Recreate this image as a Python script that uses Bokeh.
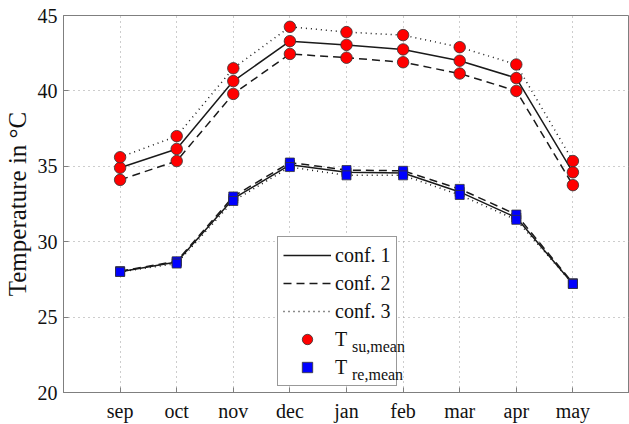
from bokeh.plotting import figure
from bokeh.models import Range1d, FixedTicker, Legend, LegendItem
from bokeh.embed import file_html
from bokeh.resources import INLINE

months = ["sep", "oct", "nov", "dec", "jan", "feb", "mar", "apr", "may"]
x = list(range(1, 10))
su_conf1 = [34.9, 36.15, 40.65, 43.3, 43.05, 42.75, 42.0, 40.85, 34.6]
su_conf2 = [34.1, 35.35, 39.8, 42.45, 42.2, 41.9, 41.15, 40.0, 33.75]
su_conf3 = [35.6, 37.0, 41.5, 44.25, 43.9, 43.7, 42.9, 41.75, 35.35]
re_conf1 = [28.0, 28.65, 32.85, 35.1, 34.6, 34.55, 33.3, 31.6, 27.2]
re_conf2 = [28.05, 28.7, 33.0, 35.25, 34.75, 34.7, 33.5, 31.8, 27.25]
re_conf3 = [28.0, 28.55, 32.7, 34.95, 34.4, 34.4, 33.1, 31.45, 27.2]
y_ticks = [20, 25, 30, 35, 40, 45]
conf_labels = ["conf. 1", "conf. 2", "conf. 3"]
sub_labels = ["su,mean", "re,mean"]
dashes = ["solid", "8 5", "1 4"]

FONT = "Liberation Serif"
QFONT = "'Liberation Serif', 'Times New Roman', serif"
AX = "#7f7f7f"

p = figure(width=629, height=424, x_range=Range1d(0, 10), y_range=Range1d(20, 45),
           output_backend="svg", toolbar_location=None,
           min_border_left=63, min_border_right=0, min_border_top=15, min_border_bottom=31)
p.outline_line_color = AX
p.outline_line_width = 1
p.background_fill_color = "white"
p.border_fill_color = "white"

xt = FixedTicker(ticks=x)
yt = FixedTicker(ticks=y_ticks)
p.xaxis.ticker = xt
p.yaxis.ticker = yt
p.xaxis.major_label_overrides = {xi: m for xi, m in zip(x, months)}
for ax in (p.xaxis[0], p.yaxis[0]):
    ax.axis_line_color = AX
    ax.major_tick_line_color = AX
    ax.major_tick_in = 5
    ax.major_tick_out = 0
    ax.minor_tick_line_color = None
    ax.major_label_text_font = FONT
    ax.major_label_text_font_size = "20px"
    ax.major_label_text_color = "#111111"
    ax.axis_label_text_font = FONT
    ax.axis_label_text_font_style = "normal"
    ax.axis_label_text_color = "#111111"
p.xaxis.major_label_standoff = 7
p.yaxis.major_label_standoff = 6
p.yaxis.axis_label = "Temperature in °C"
p.yaxis.axis_label_text_font_size = "25px"
p.yaxis.axis_label_standoff = 4

p.xgrid.ticker = xt
p.ygrid.ticker = yt
for g in (p.xgrid[0], p.ygrid[0]):
    g.grid_line_color = "#9a9a9a"
    g.grid_line_dash = "1 4"
    g.grid_line_width = 1

line_renderers = []
for su, re_, dash in zip([su_conf1, su_conf2, su_conf3], [re_conf1, re_conf2, re_conf3], dashes):
    r1 = p.line(x, su, line_color="#1a1a1a", line_width=1.5, line_dash=dash)
    p.line(x, re_, line_color="#1a1a1a", line_width=1.5, line_dash=dash)
    line_renderers.append(r1)

su_x = x * 3
su_y = su_conf1 + su_conf2 + su_conf3
re_y = re_conf1 + re_conf2 + re_conf3
rs = p.scatter(su_x, su_y, marker="circle", size=11.5, fill_color="#ff0000",
               line_color="#333333", line_width=0.8)
rr = p.scatter(su_x, re_y, marker="square", size=9, fill_color="#0000ff",
               line_color="#333333", line_width=0.8)

items = [LegendItem(label=l, renderers=[r]) for l, r in zip(conf_labels, line_renderers)]
items += [LegendItem(label="T", renderers=[rs]), LegendItem(label="T", renderers=[rr])]
leg = Legend(items=items, location=(214, 6), label_text_font=QFONT, label_text_font_size="20px",
             label_text_color="#111111", glyph_width=48, glyph_height=26, label_height=26,
             spacing=2, padding=5, margin=0, border_line_color="#333333", border_line_width=1,
             background_fill_color="white", background_fill_alpha=1.0, label_standoff=4)
p.add_layout(leg, "center")

sub_items = [LegendItem(label=t, renderers=[]) for t in sub_labels]
sub_leg = Legend(items=sub_items, location=(289, 7), label_text_font=QFONT,
                 label_text_font_size="16px", label_text_color="#111111",
                 glyph_width=0, glyph_height=20, label_height=20, spacing=8, padding=0,
                 margin=0, label_standoff=0, border_line_color=None,
                 background_fill_alpha=0.0)
p.add_layout(sub_leg, "center")

open("out.html", "w").write(file_html(p, INLINE))
